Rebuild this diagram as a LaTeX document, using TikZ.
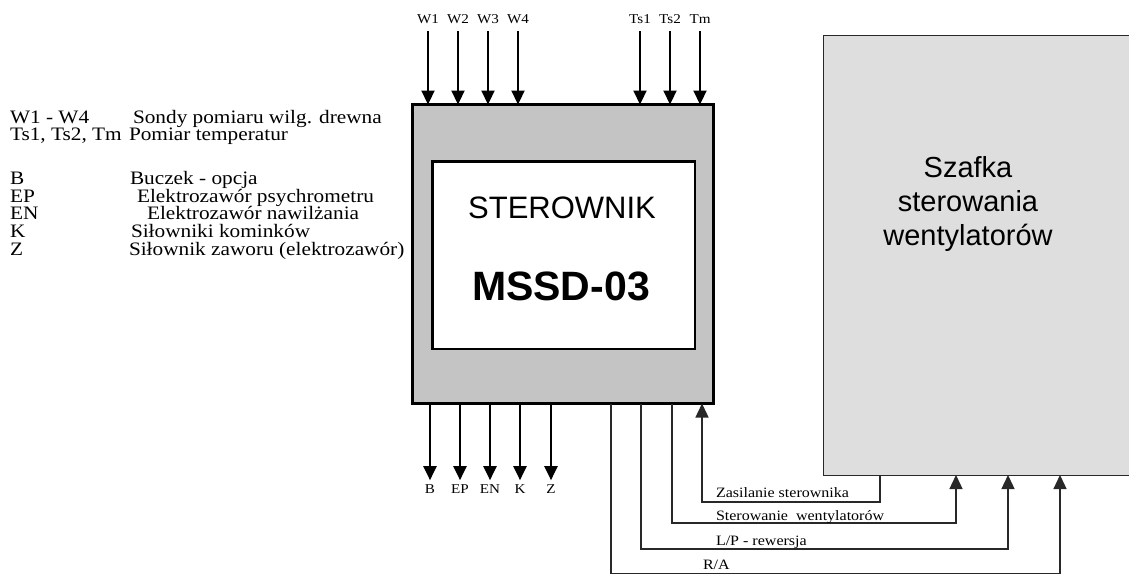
\documentclass[tikz,border=0pt]{standalone}
\usepackage{fontspec}
\setmainfont{Liberation Serif}[FakeStretch=1.12]
\setsansfont{Liberation Sans}
\usetikzlibrary{arrows.meta}
\definecolor{stergray}{RGB}{196,196,196}
\definecolor{szafgray}{RGB}{222,222,222}
\definecolor{wiregray}{RGB}{40,40,40}

\begin{document}
\begin{tikzpicture}[
  x=1pt, y=-1pt,
  every node/.style={inner sep=0pt, outer sep=0pt},
  legend/.style={anchor=base west, font=\fontsize{19}{19}\selectfont},
  pin/.style={anchor=base, font=\fontsize{13.5}{13.5}\selectfont},
  wirelabel/.style={anchor=base west, font=\fontsize{14.3}{14.3}\selectfont},
  sig/.style={-{Triangle[length=14pt,width=13pt]}, line width=2.2pt},
  wire/.style={draw=wiregray, line width=1.4pt},
  wirein/.style={wire, -{Triangle[length=14pt,width=13pt]}}
]
\useasboundingbox (0,0) rectangle (1129,574);

% Legenda (lewa strona)
\node[legend] (lw) at (10,123) {W1 - W4};
\node[legend] (lwt) at (133,123) {Sondy pomiaru wilg. drewna};
\node[legend] (lt) at (10,140) {Ts1, Ts2, Tm};
\node[legend] (ltt) at (129,140) {Pomiar temperatur};
\node[legend] (lb) at (10,184) {B};
\node[legend] (lbt) at (130,184) {Buczek - opcja};
\node[legend] (lep) at (10,202) {EP};
\node[legend] (lept) at (137,202) {Elektrozawór psychrometru};
\node[legend] (len) at (10,219) {EN};
\node[legend] (lent) at (147,219) {Elektrozawór nawilżania};
\node[legend] (lk) at (10,237) {K};
\node[legend] (lkt) at (131,237) {Siłowniki kominków};
\node[legend] (lz) at (10,255) {Z};
\node[legend] (lzt) at (129,255) {Siłownik zaworu (elektrozawór)};

% Sterownik
\node[draw, line width=3pt, fill=stergray, minimum width=301pt, minimum height=299pt] (ster) at (563,254) {};
\node[draw, line width=2.5pt, fill=white, minimum width=262.5pt, minimum height=187.5pt] (core) at (563.5,255) {};
\node[anchor=base, font=\sffamily\fontsize{31}{31}\selectfont] (tytul) at (562,218) {STEROWNIK};
\node[anchor=base, font=\sffamily\bfseries\fontsize{41}{41}\selectfont] (model) at (561,300) {MSSD-03};

% Szafka
\node[draw=wiregray, line width=1pt, fill=szafgray, minimum width=318pt, minimum height=440pt] (szafka) at (982.5,255) {};
\node[align=center, font=\sffamily\fontsize{29}{34}\selectfont] (szafkatxt) at (968,204) {Szafka\\sterowania\\wentylatorów};

% Wejscia (gora)
\foreach \lab/\x in {W1/428, W2/458, W3/488, W4/518, Ts1/640, Ts2/670, Tm/700} {
  \node[pin] (in\lab) at (\x,23) {\lab};
  \draw[sig] ([yshift=-8pt]in\lab.south) -- (in\lab.south |- ster.north);
}

% Wyjscia (dol)
\foreach \lab/\x in {B/430, EP/460, EN/490, K/520, Z/551} {
  \node[pin] (out\lab) at (\x,493) {\lab};
  \draw[sig] (out\lab |- ster.south) -- ([yshift=4pt]out\lab.north);
}

% Polaczenia sterownik - szafka
\coordinate (zas1) at (880,502);
\coordinate (zas2) at (702,502);
\draw[wirein] (zas1 |- szafka.south) -- (zas1) -- (zas2) -- (zas2 |- ster.south);
\node[wirelabel] (zaslab) at (716,497) {Zasilanie sterownika};

\coordinate (went1) at (672,523);
\coordinate (went2) at (956,523);
\draw[wirein] (went1 |- ster.south) -- (went1) -- (went2) -- (went2 |- szafka.south);
\node[wirelabel] (wentlab) at (716,520) {Sterowanie~ wentylatorów};

\coordinate (rew1) at (641,549);
\coordinate (rew2) at (1008,549);
\draw[wirein] (rew1 |- ster.south) -- (rew1) -- (rew2) -- (rew2 |- szafka.south);
\node[wirelabel] (rewlab) at (716,545) {L/P - rewersja};

\coordinate (ra1) at (611,573.5);
\coordinate (ra2) at (1060,573.5);
\draw[wirein] (ra1 |- ster.south) -- (ra1) -- (ra2) -- (ra2 |- szafka.south);
\node[wirelabel] (ralab) at (703,569) {R/A};
\end{tikzpicture}
\end{document}
